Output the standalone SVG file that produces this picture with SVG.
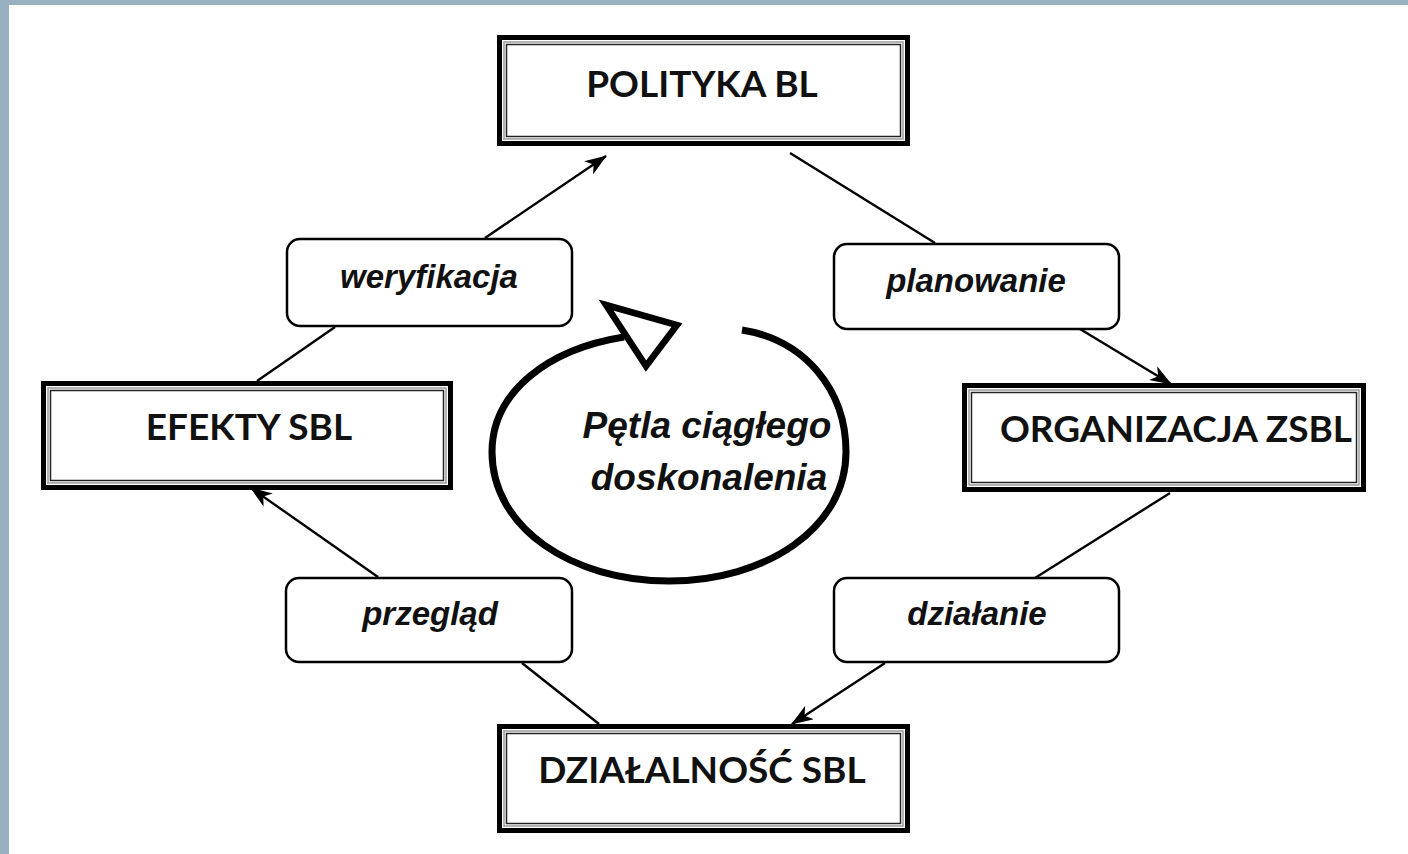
<svg xmlns="http://www.w3.org/2000/svg" width="1408" height="854" viewBox="0 0 1408 854">
<defs>
<style>
.outer{fill:#fff;stroke:#000;stroke-width:5}
.mid{fill:none;stroke:#9a9a9a;stroke-width:1.5}
.inner{fill:none;stroke:#222;stroke-width:1.5}
.lbl{fill:#fff;stroke:#000;stroke-width:2.5}
.title{font-family:Lato,"Liberation Sans",sans-serif;font-weight:bold;font-size:37px;fill:#111;text-anchor:middle}
.it{font-family:"Liberation Sans",Arial,sans-serif;font-weight:bold;font-style:italic;font-size:33px;fill:#111;text-anchor:middle}
.center{font-family:"Liberation Sans",Arial,sans-serif;font-weight:bold;font-style:italic;font-size:37px;fill:#111;text-anchor:middle}
.con{stroke:#000;stroke-width:2.4;fill:none}
</style>
<marker id="ah" viewBox="0 0 22 16" refX="21" refY="8" markerWidth="22" markerHeight="16" markerUnits="userSpaceOnUse" orient="auto">
<path d="M0,0 L22,8 L0,16 L6,8 z" fill="#000"/>
</marker>
</defs>
<rect x="0" y="0" width="1408" height="854" fill="#fff"/>
<rect x="0" y="0" width="1408" height="5" fill="#98b0c0"/>
<rect x="0" y="0" width="9" height="854" fill="#98b0c0"/>

<g id="connectors">
<line class="con" x1="257" y1="381" x2="335" y2="327"/>
<line class="con" x1="485" y1="238" x2="606" y2="156" marker-end="url(#ah)"/>
<line class="con" x1="790" y1="153" x2="935" y2="243"/>
<line class="con" x1="1080" y1="329" x2="1171" y2="384" marker-end="url(#ah)"/>
<line class="con" x1="1170" y1="493" x2="1035" y2="578"/>
<line class="con" x1="885" y1="663" x2="792" y2="724" marker-end="url(#ah)"/>
<line class="con" x1="599" y1="724" x2="522" y2="663"/>
<line class="con" x1="378" y1="577" x2="251" y2="488" marker-end="url(#ah)"/>
</g>

<g id="polityka">
<rect class="outer" x="499.5" y="37.5" width="408" height="106"/>
<rect class="mid" x="504" y="42" width="399" height="97"/>
<rect class="inner" x="506.5" y="44.5" width="394" height="92"/>
<text class="title" x="702" y="97">POLITYKA BL</text>
</g>

<g id="efekty">
<rect class="outer" x="43.5" y="383.5" width="407" height="104"/>
<rect class="mid" x="48" y="388" width="398" height="95"/>
<rect class="inner" x="50.5" y="390.5" width="393" height="90"/>
<text class="title" x="249" y="440">EFEKTY SBL</text>
</g>

<g id="organizacja">
<rect class="outer" x="964.5" y="385.5" width="399" height="104"/>
<rect class="mid" x="969" y="390" width="390" height="95"/>
<rect class="inner" x="971.5" y="392.5" width="385" height="90"/>
<text class="title" x="1176" y="442">ORGANIZACJA ZSBL</text>
</g>

<g id="dzialalnosc">
<rect class="outer" x="499.5" y="726.5" width="408" height="104"/>
<rect class="mid" x="504" y="731" width="399" height="95"/>
<rect class="inner" x="506.5" y="733.5" width="394" height="90"/>
<text class="title" x="702" y="783">DZIAŁALNOŚĆ SBL</text>
</g>

<g id="weryfikacja">
<rect class="lbl" x="287" y="239" width="285" height="87" rx="13"/>
<text class="it" x="429" y="288">weryfikacja</text>
</g>

<g id="planowanie">
<rect class="lbl" x="834" y="244" width="285" height="85" rx="13"/>
<text class="it" x="976" y="292">planowanie</text>
</g>

<g id="przeglad">
<rect class="lbl" x="286" y="578" width="286" height="84" rx="13"/>
<text class="it" x="430" y="625">przegląd</text>
</g>

<g id="dzialanie">
<rect class="lbl" x="834" y="578" width="285" height="84" rx="13"/>
<text class="it" x="977" y="625">działanie</text>
</g>

<g id="petla">
<path d="M742,330 C805,340 846,390 846,452 C846,528 766,581 669,581 C572,581 492,528 492,452 C492,392 548,349 624,337" fill="none" stroke="#000" stroke-width="7"/>
<polygon points="606,305 677,325 646,366" fill="#fff" stroke="#000" stroke-width="6.5" stroke-linejoin="miter"/>
<text class="center" x="707" y="438">Pętla ciągłego</text>
<text class="center" x="709" y="490">doskonalenia</text>
</g>
</svg>
